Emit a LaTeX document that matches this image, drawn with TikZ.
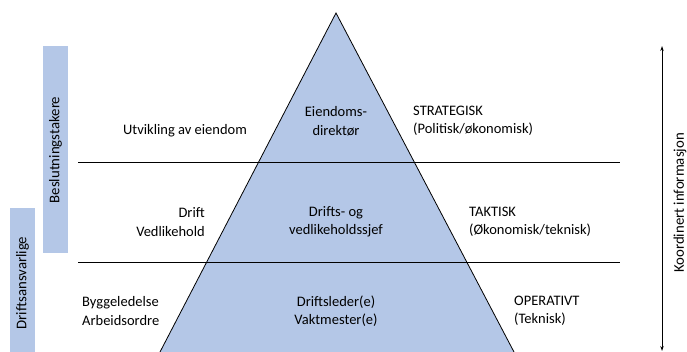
\documentclass[tikz,border=0pt]{standalone}
\usepackage{fontspec}
\setmainfont{Carlito}
\usepackage{xcolor}
\usetikzlibrary{arrows.meta, positioning, calc}
\definecolor{pyrblue}{RGB}{180, 199, 231}

\begin{document}
\begin{tikzpicture}[
    x=1pt, y=-1pt,
    lvltext/.style={font=\fontsize{14.5}{18.5}\selectfont, inner sep=0pt},
    sidebox/.style={fill=pyrblue, draw=none},
    sidetext/.style={font=\fontsize{14.8}{16}\selectfont, rotate=90, inner sep=0pt},
    sepline/.style={draw=black, line width=0.8pt},
    infoarrow/.style={{Stealth[length=1.8mm, width=1.2mm]}-{Stealth[length=1.8mm, width=1.2mm]}, line width=0.8pt}
]
    \useasboundingbox (0,0) rectangle (687,352);

    % pyramid
    \coordinate (top) at (336,13);
    \coordinate (bl) at (160,352);
    \coordinate (br) at (514,352);
    \fill[pyrblue] (top) -- (bl) -- (br) -- cycle;
    \draw[line width=0.8pt] (bl) -- (top) -- (br);

    % level separators
    \coordinate (s1l) at (78,162);
    \coordinate (s1r) at (620,162);
    \coordinate (s2l) at (78,262);
    \coordinate (s2r) at (620,262);
    \draw[sepline] (s1l) -- (s1r);
    \draw[sepline] (s2l) -- (s2r);

    % side bars
    \fill[sidebox] (43,46) rectangle (68,253);
    \node[sidetext] (besl) at (55.5,150) {Beslutningstakere};
    \fill[sidebox] (10,208) rectangle (35,352);
    \node[sidetext] (drans) at (22.5,283) {Driftsansvarlige};

    % strategic level
    \node[lvltext, align=center] (eiend) at (336,121) {Eiendoms-\\direktør};
    \node[lvltext] (utv) at (185,131) {Utvikling av eiendom};
    \node[lvltext, align=left, anchor=west] (strat) at (413,121) {STRATEGISK\\(Politisk/økonomisk)};

    % tactical level
    \node[lvltext, align=center] (sjef) at (336,222) {Drifts- og\\vedlikeholdssjef};
    \node[lvltext, align=right, anchor=east] (drift) at (205,222) {Drift\\Vedlikehold};
    \node[lvltext, align=left, anchor=west] (takt) at (469,222) {TAKTISK\\(Økonomisk/teknisk)};

    % operative level
    \node[lvltext, align=center] (leder) at (336,311) {Driftsleder(e)\\Vaktmester(e)};
    \node[lvltext, align=left, anchor=west] (bygg) at (82,311) {Byggeledelse\\Arbeidsordre};
    \node[lvltext, align=left, anchor=west] (oper) at (514,311) {OPERATIVT\\(Teknisk)};

    % information arrow
    \coordinate (atop) at (662,46);
    \coordinate (abot) at (662,351);
    \draw[infoarrow] (abot) -- (atop);
    \node[sidetext] (koord) at (680,203) {Koordinert informasjon};
\end{tikzpicture}
\end{document}
